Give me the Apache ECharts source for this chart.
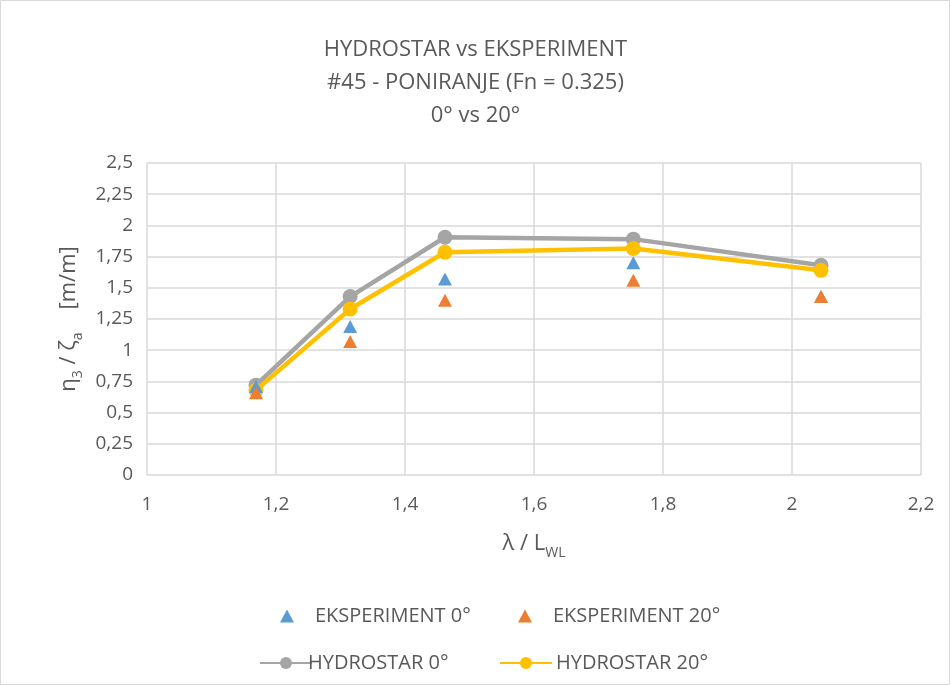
<!DOCTYPE html>
<html>
<head>
<meta charset="utf-8">
<script src="https://cdn.jsdelivr.net/npm/echarts@6/dist/echarts.min.js"></script>
<style>
html, body { margin: 0; padding: 0; background: #fff; }
#chart { width: 951px; height: 686px; }
</style>
</head>
<body>
<div id="chart"></div>
<script>
// lambda / L_WL
var lambdaL = [1.169, 1.315, 1.462, 1.754, 2.045];
var eksp0 = [0.71, 1.19, 1.57, 1.70, 1.43];
var eksp20 = [0.66, 1.07, 1.40, 1.56, 1.43];
var hydro0 = [0.72, 1.43, 1.905, 1.89, 1.68];
var hydro20 = [0.68, 1.33, 1.785, 1.815, 1.64];
var titleLines = ['HYDROSTAR vs EKSPERIMENT', '#45 - PONIRANJE (Fn = 0.325)', '0° vs 20°'];

function pairs(ys) {
	return lambdaL.map(function(x, i) { return [x, ys[i]]; });
}
function comma(v) { return String(v).replace('.', ','); }

var font = '"Open Sans", "Noto Sans", sans-serif';
var txt = '#595959';
var sub = { fontFamily: font, fontSize: 14, color: txt, verticalAlign: 'bottom', padding: [0, 0, -5, 0] };
var big = { fontFamily: font, fontSize: 22, color: txt, verticalAlign: 'bottom' };

var chart = echarts.init(document.getElementById('chart'));
var option = {
	backgroundColor: '#fff',
	textStyle: { fontFamily: font },
	title: {
		text: titleLines.join('\n'),
		left: 'center',
		top: 28,
		textStyle: { fontFamily: font, fontSize: 22, fontWeight: 'normal', color: txt, lineHeight: 33 }
	},
	graphic: [{
		type: 'rect',
		shape: { x: 0.5, y: 0.5, width: 949, height: 684 },
		style: { fill: 'none', stroke: '#D9D9D9', lineWidth: 1 },
		silent: true
	}],
	legend: [
		{ data: ['EKSPERIMENT 0°'], left: 275, top: 601, icon: 'triangle', itemWidth: 14, itemHeight: 13,
		  textStyle: { fontFamily: font, fontSize: 20, color: txt, padding: [0, 0, 0, 16] } },
		{ data: ['EKSPERIMENT 20°'], left: 513, top: 601, icon: 'triangle', itemWidth: 14, itemHeight: 13,
		  textStyle: { fontFamily: font, fontSize: 20, color: txt, padding: [0, 0, 0, 16] } },
		{ data: ['HYDROSTAR 0°'], left: 254, top: 648, itemWidth: 52, itemHeight: 15,
		  textStyle: { fontFamily: font, fontSize: 20, color: txt, padding: [0, 0, 0, -9] } },
		{ data: ['HYDROSTAR 20°'], left: 494, top: 648, itemWidth: 52, itemHeight: 15,
		  textStyle: { fontFamily: font, fontSize: 20, color: txt, padding: [0, 0, 0, -1] } }
	],
	grid: { left: 147, right: 30, top: 163, bottom: 211 },
	xAxis: {
		type: 'value',
		min: 1, max: 2.2, interval: 0.2,
		name: '{a|λ / L}{s|WL}',
		nameLocation: 'middle',
		nameGap: 58,
		nameTextStyle: { rich: { a: big, s: sub } },
		axisLine: { show: false },
		axisTick: { show: false },
		splitLine: { show: true, lineStyle: { color: '#D9D9D9', width: 1.5 } },
		axisLabel: { fontFamily: font, fontSize: 19, color: txt, margin: 20, formatter: comma }
	},
	yAxis: {
		type: 'value',
		min: 0, max: 2.5, interval: 0.25,
		name: '{a|η}{s|3}{a| / ζ}{s|a}{a|    [m/m]}',
		nameLocation: 'middle',
		nameRotate: 90,
		nameGap: 63,
		nameTextStyle: { rich: { a: big, s: sub } },
		axisLine: { show: false },
		axisTick: { show: false },
		splitLine: { show: true, lineStyle: { color: '#D9D9D9', width: 1.5 } },
		axisLabel: { fontFamily: font, fontSize: 19, color: txt, margin: 14, formatter: comma }
	},
	series: [
		{
			name: 'HYDROSTAR 0°', type: 'line', data: pairs(hydro0),
			symbol: 'circle', symbolSize: 15,
			lineStyle: { color: '#A5A5A5', width: 4.5 },
			itemStyle: { color: '#A5A5A5' },
			z: 2
		},
		{
			name: 'HYDROSTAR 20°', type: 'line', data: pairs(hydro20),
			symbol: 'circle', symbolSize: 15,
			lineStyle: { color: '#FFC000', width: 4.5 },
			itemStyle: { color: '#FFC000' },
			z: 3
		},
		{
			name: 'EKSPERIMENT 0°', type: 'scatter', data: pairs(eksp0),
			symbol: 'triangle', symbolSize: [14, 13],
			itemStyle: { color: '#5B9BD5', opacity: 1 },
			z: 4
		},
		{
			name: 'EKSPERIMENT 20°', type: 'scatter', data: pairs(eksp20),
			symbol: 'triangle', symbolSize: [14, 13],
			itemStyle: { color: '#ED7D31', opacity: 1 },
			z: 5
		}
	]
};
chart.setOption(option);
window.addEventListener('resize', chart.resize);
</script>
</body>
</html>
